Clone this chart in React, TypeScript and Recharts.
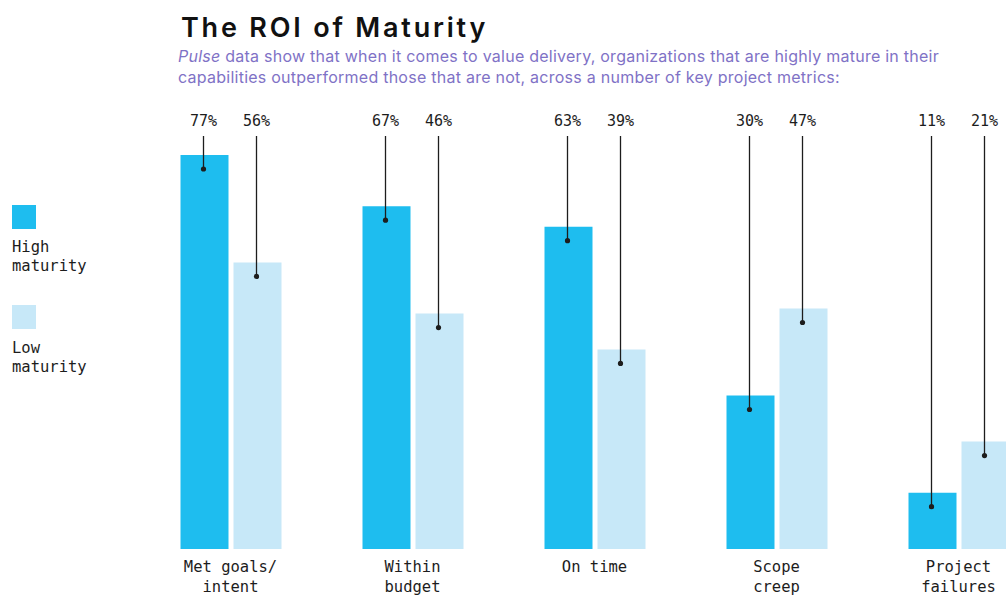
import { BarChart, Bar, XAxis, YAxis, LabelList } from 'recharts';

const categories = ['Met goals/\nintent', 'Within\nbudget', 'On time', 'Scope\ncreep', 'Project\nfailures'];
const highMaturity = [77, 67, 63, 30, 11];
const lowMaturity = [56, 46, 39, 47, 21];

const data = categories.map((name, i) => ({
  name,
  high: highMaturity[i],
  low: lowMaturity[i],
}));

const HIGH = '#1ebdef';
const LOW = '#c7e8f8';
const INK = '#1d1d1d';
const MONO = '"DejaVu Sans Mono", "Liberation Mono", monospace';
const SUB = '#7f72c6';

function Callout(props: any) {
  const { x, y, width, value } = props;
  const cx = Number(x) + Number(width) / 2 - 1;
  const dotY = Number(y) + 14;
  return (
    <g>
      <text x={cx} y={126} textAnchor="middle" fontFamily={MONO} fontSize={15} fontWeight={500} fill={INK}>
        {value}%
      </text>
      <line x1={cx} x2={cx} y1={136} y2={dotY} stroke={INK} strokeWidth={1.3} />
      <circle cx={cx} cy={dotY} r={2.6} fill={INK} />
    </g>
  );
}

function CategoryTick(props: any) {
  const { x, y, payload } = props;
  const lines = String(payload.value).split('\n');
  return (
    <g>
      {lines.map((line, i) => (
        <text
          key={i}
          x={x}
          y={y + 23 + i * 20}
          textAnchor="middle"
          fontFamily={MONO}
          fontSize={15.5}
          fill={INK}
        >
          {line}
        </text>
      ))}
    </g>
  );
}

export default function App() {
  return (
    <div style={{ position: 'relative', width: 1006, height: 595, overflow: 'hidden', background: '#fff' }}>
      <style>{'body{margin:0;overflow:hidden}'}</style>
      <svg width={1006} height={595} style={{ position: 'absolute', left: 0, top: 0 }}>
        <text
          x={181}
          y={37}
          fontFamily="Inter, sans-serif"
          fontSize={27}
          fontWeight={600}
          letterSpacing={2.8}
          fill="#111"
        >
          The ROI of Maturity
        </text>
        <text x={178} y={62} fontFamily="Inter, sans-serif" fontSize={16} letterSpacing={0.25} fill={SUB}>
          <tspan fontStyle="italic">Pulse</tspan> data show that when it comes to value delivery, organizations that are highly mature in their
        </text>
        <text x={178} y={83} fontFamily="Inter, sans-serif" fontSize={16} letterSpacing={0.25} fill={SUB}>
          capabilities outperformed those that are not, across a number of key project metrics:
        </text>
        <rect x={12} y={205} width={24} height={24} fill={HIGH} />
        <text x={12} y={252} fontFamily={MONO} fontSize={15.5} fill={INK}>High</text>
        <text x={12} y={271} fontFamily={MONO} fontSize={15.5} fill={INK}>maturity</text>
        <rect x={12} y={305} width={24} height={24} fill={LOW} />
        <text x={12} y={353} fontFamily={MONO} fontSize={15.5} fill={INK}>Low</text>
        <text x={12} y={372} fontFamily={MONO} fontSize={15.5} fill={INK}>maturity</text>
      </svg>
      <div style={{ position: 'absolute', left: 0, top: 0 }}>
        <BarChart
          width={1060}
          height={595}
          data={data}
          margin={{ top: 37.3, right: 10.5, bottom: 0, left: 139.5 }}
          barSize={48}
          barGap={5}
        >
          <XAxis
            dataKey="name"
            axisLine={false}
            tickLine={false}
            tickSize={0}
            tickMargin={0}
            height={46}
            interval={0}
            tick={<CategoryTick />}
          />
          <YAxis hide domain={[0, 100]} />
          <Bar dataKey="high" fill={HIGH} isAnimationActive={false}>
            <LabelList dataKey="high" content={<Callout />} />
          </Bar>
          <Bar dataKey="low" fill={LOW} isAnimationActive={false}>
            <LabelList dataKey="low" content={<Callout />} />
          </Bar>
        </BarChart>
      </div>
    </div>
  );
}
